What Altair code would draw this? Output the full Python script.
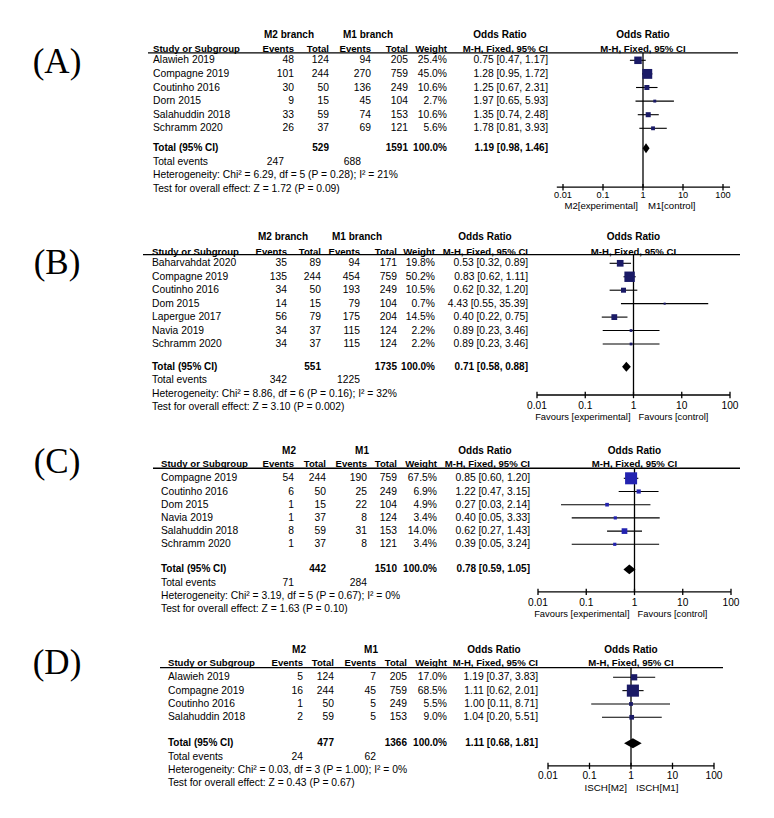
import altair as alt
import pandas as pd

FONT = "Liberation Sans"
FS_BODY = 10.3
FS_H1 = 10
FS_H2 = 9.6
FS_TOT = 10

# ---------------- data ----------------
A_studies = ["Alawieh 2019", "Compagne 2019", "Coutinho 2016", "Dorn 2015", "Salahuddin 2018", "Schramm 2020"]
A_ev2 = [48, 101, 30, 9, 33, 26]
A_tot2 = [124, 244, 50, 15, 59, 37]
A_ev1 = [94, 270, 136, 45, 74, 69]
A_tot1 = [205, 759, 249, 104, 153, 121]
A_wt = [25.4, 45.0, 10.6, 2.7, 10.6, 5.6]
A_or = [0.75, 1.28, 1.25, 1.97, 1.35, 1.78]
A_lo = [0.47, 0.95, 0.67, 0.65, 0.74, 0.81]
A_hi = [1.17, 1.72, 2.31, 5.93, 2.48, 3.93]
A_pool = [1.19, 0.98, 1.46]
A_het = [6.29, 5, "0.28", 21]
A_test = [1.72, "0.09"]
A_groups = ["M2 branch", "M1 branch"]
A_favours = ["M2[experimental]", "M1[control]"]

B_studies = ["Baharvahdat 2020", "Compagne 2019", "Coutinho 2016", "Dom 2015", "Lapergue 2017", "Navia 2019", "Schramm 2020"]
B_ev2 = [35, 135, 34, 14, 56, 34, 34]
B_tot2 = [89, 244, 50, 15, 79, 37, 37]
B_ev1 = [94, 454, 193, 79, 175, 115, 115]
B_tot1 = [171, 759, 249, 104, 204, 124, 124]
B_wt = [19.8, 50.2, 10.5, 0.7, 14.5, 2.2, 2.2]
B_or = [0.53, 0.83, 0.62, 4.43, 0.40, 0.89, 0.89]
B_lo = [0.32, 0.62, 0.32, 0.55, 0.22, 0.23, 0.23]
B_hi = [0.89, 1.11, 1.20, 35.39, 0.75, 3.46, 3.46]
B_pool = [0.71, 0.58, 0.88]
B_het = [8.86, 6, "0.16", 32]
B_test = [3.10, "0.002"]
B_groups = ["M2 branch", "M1 branch"]
B_favours = ["Favours [experimental]", "Favours [control]"]

C_studies = ["Compagne 2019", "Coutinho 2016", "Dom 2015", "Navia 2019", "Salahuddin 2018", "Schramm 2020"]
C_ev2 = [54, 6, 1, 1, 8, 1]
C_tot2 = [244, 50, 15, 37, 59, 37]
C_ev1 = [190, 25, 22, 8, 31, 8]
C_tot1 = [759, 249, 104, 124, 153, 121]
C_wt = [67.5, 6.9, 4.9, 3.4, 14.0, 3.4]
C_or = [0.85, 1.22, 0.27, 0.40, 0.62, 0.39]
C_lo = [0.60, 0.47, 0.03, 0.05, 0.27, 0.05]
C_hi = [1.20, 3.15, 2.14, 3.33, 1.43, 3.24]
C_pool = [0.78, 0.59, 1.05]
C_het = [3.19, 5, "0.67", 0]
C_test = [1.63, "0.10"]
C_groups = ["M2", "M1"]
C_favours = ["Favours [experimental]", "Favours [control]"]

D_studies = ["Alawieh 2019", "Compagne 2019", "Coutinho 2016", "Salahuddin 2018"]
D_ev2 = [5, 16, 1, 2]
D_tot2 = [124, 244, 50, 59]
D_ev1 = [7, 45, 5, 5]
D_tot1 = [205, 759, 249, 153]
D_wt = [17.0, 68.5, 5.5, 9.0]
D_or = [1.19, 1.11, 1.00, 1.04]
D_lo = [0.37, 0.62, 0.11, 0.20]
D_hi = [3.83, 2.01, 8.71, 5.51]
D_pool = [1.11, 0.68, 1.81]
D_het = [0.03, 3, "1.00", 0]
D_test = [0.43, "0.67"]
D_groups = ["M2", "M1"]
D_favours = ["ISCH[M2]", "ISCH[M1]"]

TOTAL_WEIGHT = "100.0%"
TICKS = [0.01, 0.1, 1, 10, 100]
TICK_LABELS = ["0.01", "0.1", "1", "10", "100"]

DATA = {
    "A": dict(studies=A_studies, ev2=A_ev2, tot2=A_tot2, ev1=A_ev1, tot1=A_tot1, wt=A_wt, orr=A_or, lo=A_lo, hi=A_hi,
              pool=A_pool, het=A_het, test=A_test, groups=A_groups, favours=A_favours),
    "B": dict(studies=B_studies, ev2=B_ev2, tot2=B_tot2, ev1=B_ev1, tot1=B_tot1, wt=B_wt, orr=B_or, lo=B_lo, hi=B_hi,
              pool=B_pool, het=B_het, test=B_test, groups=B_groups, favours=B_favours),
    "C": dict(studies=C_studies, ev2=C_ev2, tot2=C_tot2, ev1=C_ev1, tot1=C_tot1, wt=C_wt, orr=C_or, lo=C_lo, hi=C_hi,
              pool=C_pool, het=C_het, test=C_test, groups=C_groups, favours=C_favours),
    "D": dict(studies=D_studies, ev2=D_ev2, tot2=D_tot2, ev1=D_ev1, tot1=D_tot1, wt=D_wt, orr=D_or, lo=D_lo, hi=D_hi,
              pool=D_pool, het=D_het, test=D_test, groups=D_groups, favours=D_favours),
}

# ---------------- layout (page pixel positions) ----------------
LAYOUT = {
    "A": dict(top=8, bottom=222, y0=60.3, s=13.6, tg=1.47, h1=-1.84, h2=-0.82, ul=-0.55, lab=0.12,
              study=153, ev2=294, tot2=329, ev1=371, tot1=408, wt=447, orx=548, c2=289, c1=368, cor=500,
              ulx=(148, 738), f0=563, f1=723, ext=(0.007, 150), axis=9.33, tick=9.92, fav=10.72,
              fdx=(-5, 5), tev=-10, sq="#1a1a66", tfs=9.2, ffs=9.6),
    "B": dict(top=222, bottom=435, y0=263.3, s=13.45, tg=1.69, h1=-1.96, h2=-0.84, ul=-0.65, lab=0.0,
              study=152, ev2=287, tot2=321, ev1=360, tot1=397, wt=435, orx=528, c2=283, c1=357, cor=485,
              ulx=(143, 740), f0=537, f1=730, ext=(0.01, 100), axis=9.79, tick=10.61, fav=11.43,
              fdx=(-3, 5), tev=0, sq="#1a1a66", tfs=10.2, ffs=9.4),
    "C": dict(top=435, bottom=632, y0=478.3, s=13.2, tg=1.9, h1=-2.09, h2=-1.08, ul=-0.76, lab=-1.23,
              study=161, ev2=294, tot2=326, ev1=367, tot1=397, wt=437, orx=530, c2=289, c1=362, cor=485,
              ulx=(153, 740), f0=538, f1=731, ext=(0.01, 100), axis=8.61, tick=9.45, fav=10.28,
              fdx=(-5, 3), tev=0, sq="#2323b0", tfs=10.2, ffs=9.4),
    "D": dict(top=632, bottom=810, y0=677.3, s=13.33, tg=1.95, h1=-2.05, h2=-1.05, ul=-0.72, lab=-1.07,
              study=168, ev2=303, tot2=334, ev1=376, tot1=407, wt=447, orx=538, c2=299, c1=371, cor=494,
              ulx=(160, 723), f0=548, f1=714, ext=(0.01, 100), axis=6.65, tick=7.4, fav=8.27,
              fdx=(-4, 5), tev=0, sq="#1a1a66", tfs=10.2, ffs=9.8),
}

W = 758


def fmt_or(o, l, h):
    return f"{o:.2f} [{l:.2f}, {h:.2f}]"


def panel(key):
    L = LAYOUT[key]
    D = DATA[key]
    n = len(D["studies"])
    s, y0 = L["s"], L["y0"]
    r_top = (L["top"] - y0) / s
    r_bot = (L["bottom"] - y0) / s
    h = L["bottom"] - L["top"]
    YS = alt.Scale(domain=[r_top, r_bot], reverse=True, nice=False, zero=False)
    TX = alt.Scale(domain=[8, 8 + W], range=[0, W], nice=False, zero=False)
    FX = alt.Scale(type="log", domain=[0.01, 100], range=[L["f0"] - 8, L["f1"] - 8], nice=False)

    y = lambda f="r": alt.Y(f"{f}:Q", scale=YS, axis=None)
    r_tot = (n - 1) + L["tg"]

    cells = []

    def add(x, r, t, align, bold=False, size=FS_BODY):
        cells.append(dict(x=x, r=r, t=str(t), align=align, bold=bold, size=size))

    # header
    add(L["c2"], L["h1"], D["groups"][0], "center", True, FS_H1)
    add(L["c1"], L["h1"], D["groups"][1], "center", True, FS_H1)
    add(L["cor"], L["h1"], "Odds Ratio", "center", True, FS_H1)
    add(L["study"], L["h2"], "Study or Subgroup", "left", True, FS_H2)
    add(L["ev2"], L["h2"], "Events", "right", True, FS_H2)
    add(L["tot2"], L["h2"], "Total", "right", True, FS_H2)
    add(L["ev1"], L["h2"], "Events", "right", True, FS_H2)
    add(L["tot1"], L["h2"], "Total", "right", True, FS_H2)
    add(L["wt"], L["h2"], "Weight", "right", True, FS_H2)
    add(L["orx"], L["h2"], "M-H, Fixed, 95% CI", "right", True, FS_H2)
    # rows
    for i in range(n):
        add(L["study"], i, D["studies"][i], "left")
        add(L["ev2"], i, D["ev2"][i], "right")
        add(L["tot2"], i, D["tot2"][i], "right")
        add(L["ev1"], i, D["ev1"][i], "right")
        add(L["tot1"], i, D["tot1"][i], "right")
        add(L["wt"], i, f"{D['wt'][i]:.1f}%", "right")
        add(L["orx"], i, fmt_or(D["orr"][i], D["lo"][i], D["hi"][i]), "right")
    # totals
    add(L["study"], r_tot, "Total (95% CI)", "left", True, FS_TOT)
    add(L["tot2"], r_tot, sum(D["tot2"]), "right", True, FS_TOT)
    add(L["tot1"], r_tot, sum(D["tot1"]), "right", True, FS_TOT)
    add(L["wt"], r_tot, TOTAL_WEIGHT, "right", True, FS_TOT)
    add(L["orx"], r_tot, fmt_or(*D["pool"]), "right", True, FS_TOT)
    add(L["study"], r_tot + 1, "Total events", "left")
    add(L["ev2"] + L["tev"], r_tot + 1, sum(D["ev2"]), "right")
    add(L["ev1"] + L["tev"], r_tot + 1, sum(D["ev1"]), "right")
    chi, df_, p, i2 = D["het"]
    add(L["study"], r_tot + 2, f"Heterogeneity: Chi\u00b2 = {chi:.2f}, df = {df_} (P = {p}); I\u00b2 = {i2}%", "left")
    z, pz = D["test"]
    add(L["study"], r_tot + 3, f"Test for overall effect: Z = {z:.2f} (P = {pz})", "left")

    cdf = pd.DataFrame(cells)
    layers = []

    # panel label
    layers.append(
        alt.Chart(pd.DataFrame({"x": [57], "r": [L["lab"]], "t": ["(" + key + ")"]}))
        .mark_text(font="Liberation Serif", fontSize=35, align="center", baseline="middle", color="black")
        .encode(x=alt.X("x:Q", scale=TX, axis=None), y=y(), text="t:N")
    )

    # header underline
    layers.append(
        alt.Chart(pd.DataFrame({"x": [L["ulx"][0]], "x2": [L["ulx"][1]], "r": [L["ul"]]}))
        .mark_rule(color="black", strokeWidth=1.3)
        .encode(x=alt.X("x:Q", scale=TX, axis=None), x2="x2:Q", y=y())
    )

    for (al, bd, sz), g in cdf.groupby(["align", "bold", "size"]):
        layers.append(
            alt.Chart(g[["x", "r", "t"]])
            .mark_text(font=FONT, fontSize=float(sz), align=al, baseline="middle", color="black",
                       fontWeight="bold" if bd else "normal")
            .encode(x=alt.X("x:Q", scale=TX, axis=None), y=y(), text="t:N")
        )

    # ---- forest part ----
    fx = lambda f: alt.X(f"{f}:Q", scale=FX, axis=None)

    fh = pd.DataFrame({"x": [1, 1], "r": [L["h1"], L["h2"]], "t": ["Odds Ratio", "M-H, Fixed, 95% CI"]})
    layers.append(
        alt.Chart(fh.iloc[[0]]).mark_text(font=FONT, fontSize=FS_H1, fontWeight="bold", align="center", baseline="middle", color="black")
        .encode(x=fx("x"), y=y(), text="t:N")
    )
    layers.append(
        alt.Chart(fh.iloc[[1]]).mark_text(font=FONT, fontSize=FS_H2, fontWeight="bold", align="center", baseline="middle", color="black")
        .encode(x=fx("x"), y=y(), text="t:N")
    )
    # vertical no-effect line
    layers.append(
        alt.Chart(pd.DataFrame({"x": [1], "r": [L["ul"]], "r2": [L["axis"]]}))
        .mark_rule(color="black", strokeWidth=1.3)
        .encode(x=fx("x"), y=y(), y2="r2:Q")
    )
    # axis line
    layers.append(
        alt.Chart(pd.DataFrame({"x": [L["ext"][0]], "x2": [L["ext"][1]], "r": [L["axis"]]}))
        .mark_rule(color="black", strokeWidth=1.3)
        .encode(x=fx("x"), x2="x2:Q", y=y())
    )
    tk = pd.DataFrame({"x": TICKS, "t": TICK_LABELS})
    tk["r"] = L["axis"] - 0.24
    tk["r2"] = L["axis"] + 0.24
    tk["rl"] = L["tick"]
    layers.append(
        alt.Chart(tk).mark_rule(color="black", strokeWidth=1.3)
        .encode(x=fx("x"), y=y(), y2="r2:Q")
    )
    layers.append(
        alt.Chart(tk).mark_text(font=FONT, fontSize=L["tfs"], align="center", baseline="middle", color="black")
        .encode(x=fx("x"), y=y("rl"), text="t:N")
    )
    # favours labels
    fav = pd.DataFrame({"x": [1, 1], "r": [L["fav"], L["fav"]], "t": D["favours"]})
    layers.append(
        alt.Chart(fav.iloc[[0]]).mark_text(font=FONT, fontSize=L["ffs"], align="right", baseline="middle", color="black", dx=L["fdx"][0])
        .encode(x=fx("x"), y=y(), text="t:N")
    )
    layers.append(
        alt.Chart(fav.iloc[[1]]).mark_text(font=FONT, fontSize=L["ffs"], align="left", baseline="middle", color="black", dx=L["fdx"][1])
        .encode(x=fx("x"), y=y(), text="t:N")
    )

    # study CIs and squares
    st = pd.DataFrame({"orr": D["orr"], "lo": D["lo"], "hi": D["hi"], "w": D["wt"], "r": list(range(n))})
    layers.append(
        alt.Chart(st).mark_rule(color="black", strokeWidth=1.1)
        .encode(x=fx("lo"), x2="hi:Q", y=y())
    )
    layers.append(
        alt.Chart(st).mark_square(color=L["sq"], opacity=1, filled=True)
        .encode(x=fx("orr"), y=y(),
                size=alt.Size("w:Q", scale=alt.Scale(domain=[0, 70], range=[3, 150]), legend=None))
    )

    # pooled diamond
    o, lo, hi = D["pool"]
    hw = 0.37
    dm = pd.DataFrame({"x": [lo, o, hi], "ya": [r_tot, r_tot - hw, r_tot], "yb": [r_tot, r_tot + hw, r_tot]})
    layers.append(
        alt.Chart(dm).mark_area(color="black", orient="vertical", interpolate="linear")
        .encode(x=fx("x"), y=y("ya"), y2="yb:Q")
    )

    return alt.layer(*layers).resolve_scale(x="independent").properties(width=W, height=h)


chart = alt.vconcat(*[panel(k) for k in ["A", "B", "C", "D"]], spacing=0, bounds="flush").properties(
    padding=0
).configure_view(stroke=None)

chart.save("out.html", embed_options={"renderer": "svg", "actions": False})
